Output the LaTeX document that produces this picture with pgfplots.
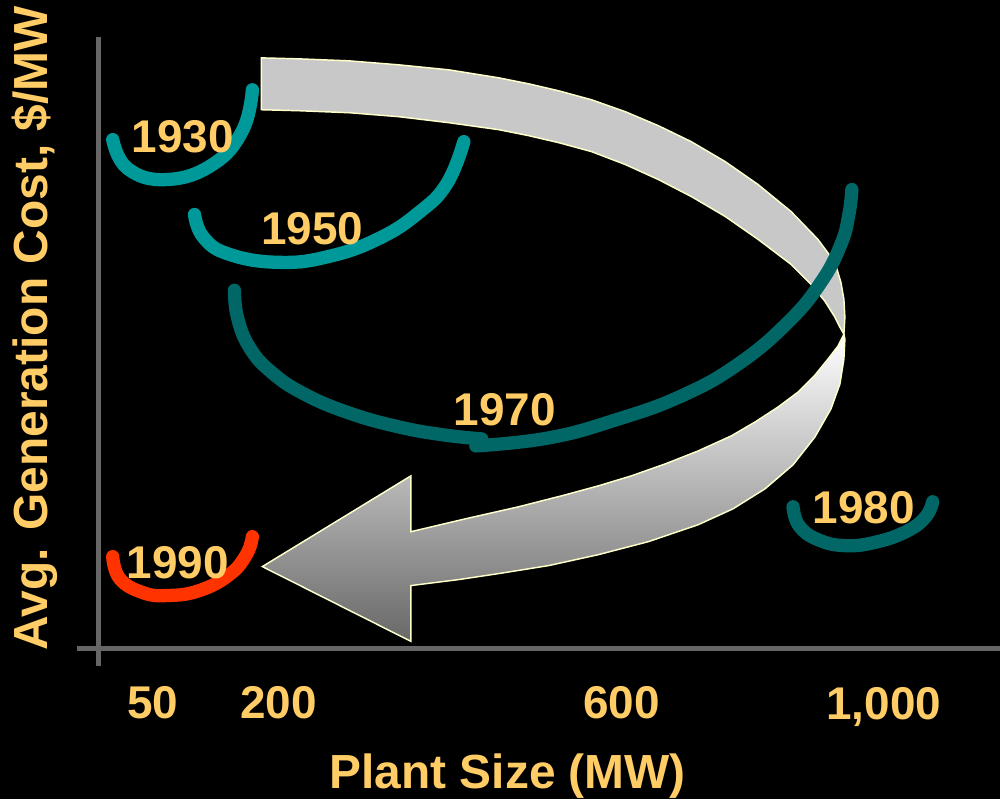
\documentclass[border=0pt]{standalone}
\usepackage{pgfplots}
\pgfplotsset{compat=1.18}
\usepackage{fontspec}
\setmainfont{Liberation Sans}
\definecolor{lab}{HTML}{FFCC66}
\definecolor{tealA}{HTML}{009999}
\definecolor{tealB}{HTML}{006666}
\definecolor{redA}{HTML}{FF3300}
\definecolor{axgray}{HTML}{666666}
\definecolor{edge}{HTML}{FFFFCC}
\definecolor{band}{HTML}{C8C8C8}
\definecolor{hmid}{HTML}{D4D4D4}
\definecolor{hbot}{HTML}{686868}
\newcommand\tk{\fontsize{34.5}{40}\selectfont\bfseries}
\newcommand\al{\fontsize{36}{42}\selectfont\bfseries}
\begin{document}
\begin{tikzpicture}
\fill[black] (0,0) rectangle (751.5pt,600.75pt);
\begin{axis}[at={(0,0)},anchor=south west,scale only axis,
  width=751.5pt,height=600.75pt,
  xmin=0,xmax=1002,ymin=0,ymax=801,y dir=reverse,
  hide axis,clip=false,
  curve/.style={line width=10pt,line cap=round,smooth,tension=0.75}]
% axis lines
\addplot[axgray,line width=3.75pt] coordinates {(99,37) (99,668)};
\addplot[axgray,line width=3.75pt] coordinates {(77,650) (1002,650)};
% back band of the arrow
\addplot[fill=band,draw=edge,line width=1.1pt] coordinates {
 (262,58) (300,59) (350,61) (400,65) (450,70) (500,78) (530,84) (560,91)
 (593,100) (627,112) (660,126) (693,142) (727,162) (760,185) (793,212)
 (820,240) (837,263) (843,283) (846,300) (847,318) (846,335)
 (842,328) (837,318) (827,302) (813,285) (793,265) (760,240) (727,217)
 (693,197) (660,180) (627,165) (593,152) (560,143) (530,136) (500,130)
 (450,123) (400,117) (350,113) (300,111) (262,110)} -- cycle;
% front band with arrow head
\addplot[draw=edge,line width=1.1pt,top color=white,middle color=hmid,bottom color=hbot] coordinates {
 (846,335) (840,347) (830,360) (817,376) (800,393) (780,408) (757,423)
 (733,437) (700,452) (667,465) (633,477) (600,487) (567,496) (520,508)
 (467,520) (412,533) (412,477) (263,568) (412,643) (412,587) (460,581)
 (500,575) (550,567) (600,556) (650,543) (700,526) (735,510) (767,490)
 (795,466) (817,438) (833,410) (842,385) (846,360) (847,340)} -- cycle;
% curves
\addplot[tealA,curve] coordinates {
 (113,140) (128,169) (167,180) (213,165) (243,131) (253,90)};
\addplot[tealA,curve] coordinates {
 (195,215) (204,238) (230,255) (280,263) (330,257) (380,239) (420,213) (448,184) (465,142)};
\addplot[tealB,curve] coordinates {
 (235,291) (238,318) (250,348) (272,373) (305,395) (350,414) (400,428) (445,436) (483,440)};
\addplot[tealB,curve] coordinates {
 (477,447) (550,439) (617,421) (683,397) (740,365) (790,323) (823,283) (843,245) (851,215) (854,190)};
\addplot[tealB,curve] coordinates {
 (795,508) (801,527) (820,541) (848,547) (880,543) (910,532) (928,518) (935,503)};
\addplot[redA,curve] coordinates {
 (113,558) (120,580) (143,594) (168,597) (200,592) (230,576) (247,556) (253,538)};
% year labels
\node[anchor=base,text=lab,font=\tk,inner sep=0] at (axis cs:183,153) {1930};
\node[anchor=base,text=lab,font=\tk,inner sep=0] at (axis cs:313,245) {1950};
\node[anchor=base,text=lab,font=\tk,inner sep=0] at (axis cs:506,427) {1970};
\node[anchor=base,text=lab,font=\tk,inner sep=0] at (axis cs:866,525) {1980};
\node[anchor=base,text=lab,font=\tk,inner sep=0] at (axis cs:178,580) {1990};
% tick labels
\node[anchor=base,text=lab,font=\tk,inner sep=0] at (axis cs:153,720) {50};
\node[anchor=base,text=lab,font=\tk,inner sep=0] at (axis cs:279,720) {200};
\node[anchor=base,text=lab,font=\tk,inner sep=0] at (axis cs:623,720) {600};
\node[anchor=base,text=lab,font=\tk,inner sep=0] at (axis cs:886,721) {1,000};
% axis labels
\node[anchor=base,text=lab,font=\al,inner sep=0] at (axis cs:509,790) {Plant Size (MW)};
\node[anchor=base,rotate=90,text=lab,font=\al,inner sep=0] at (axis cs:48,329) {Avg. Generation Cost, \$/MW};
\end{axis}
\end{tikzpicture}
\end{document}
